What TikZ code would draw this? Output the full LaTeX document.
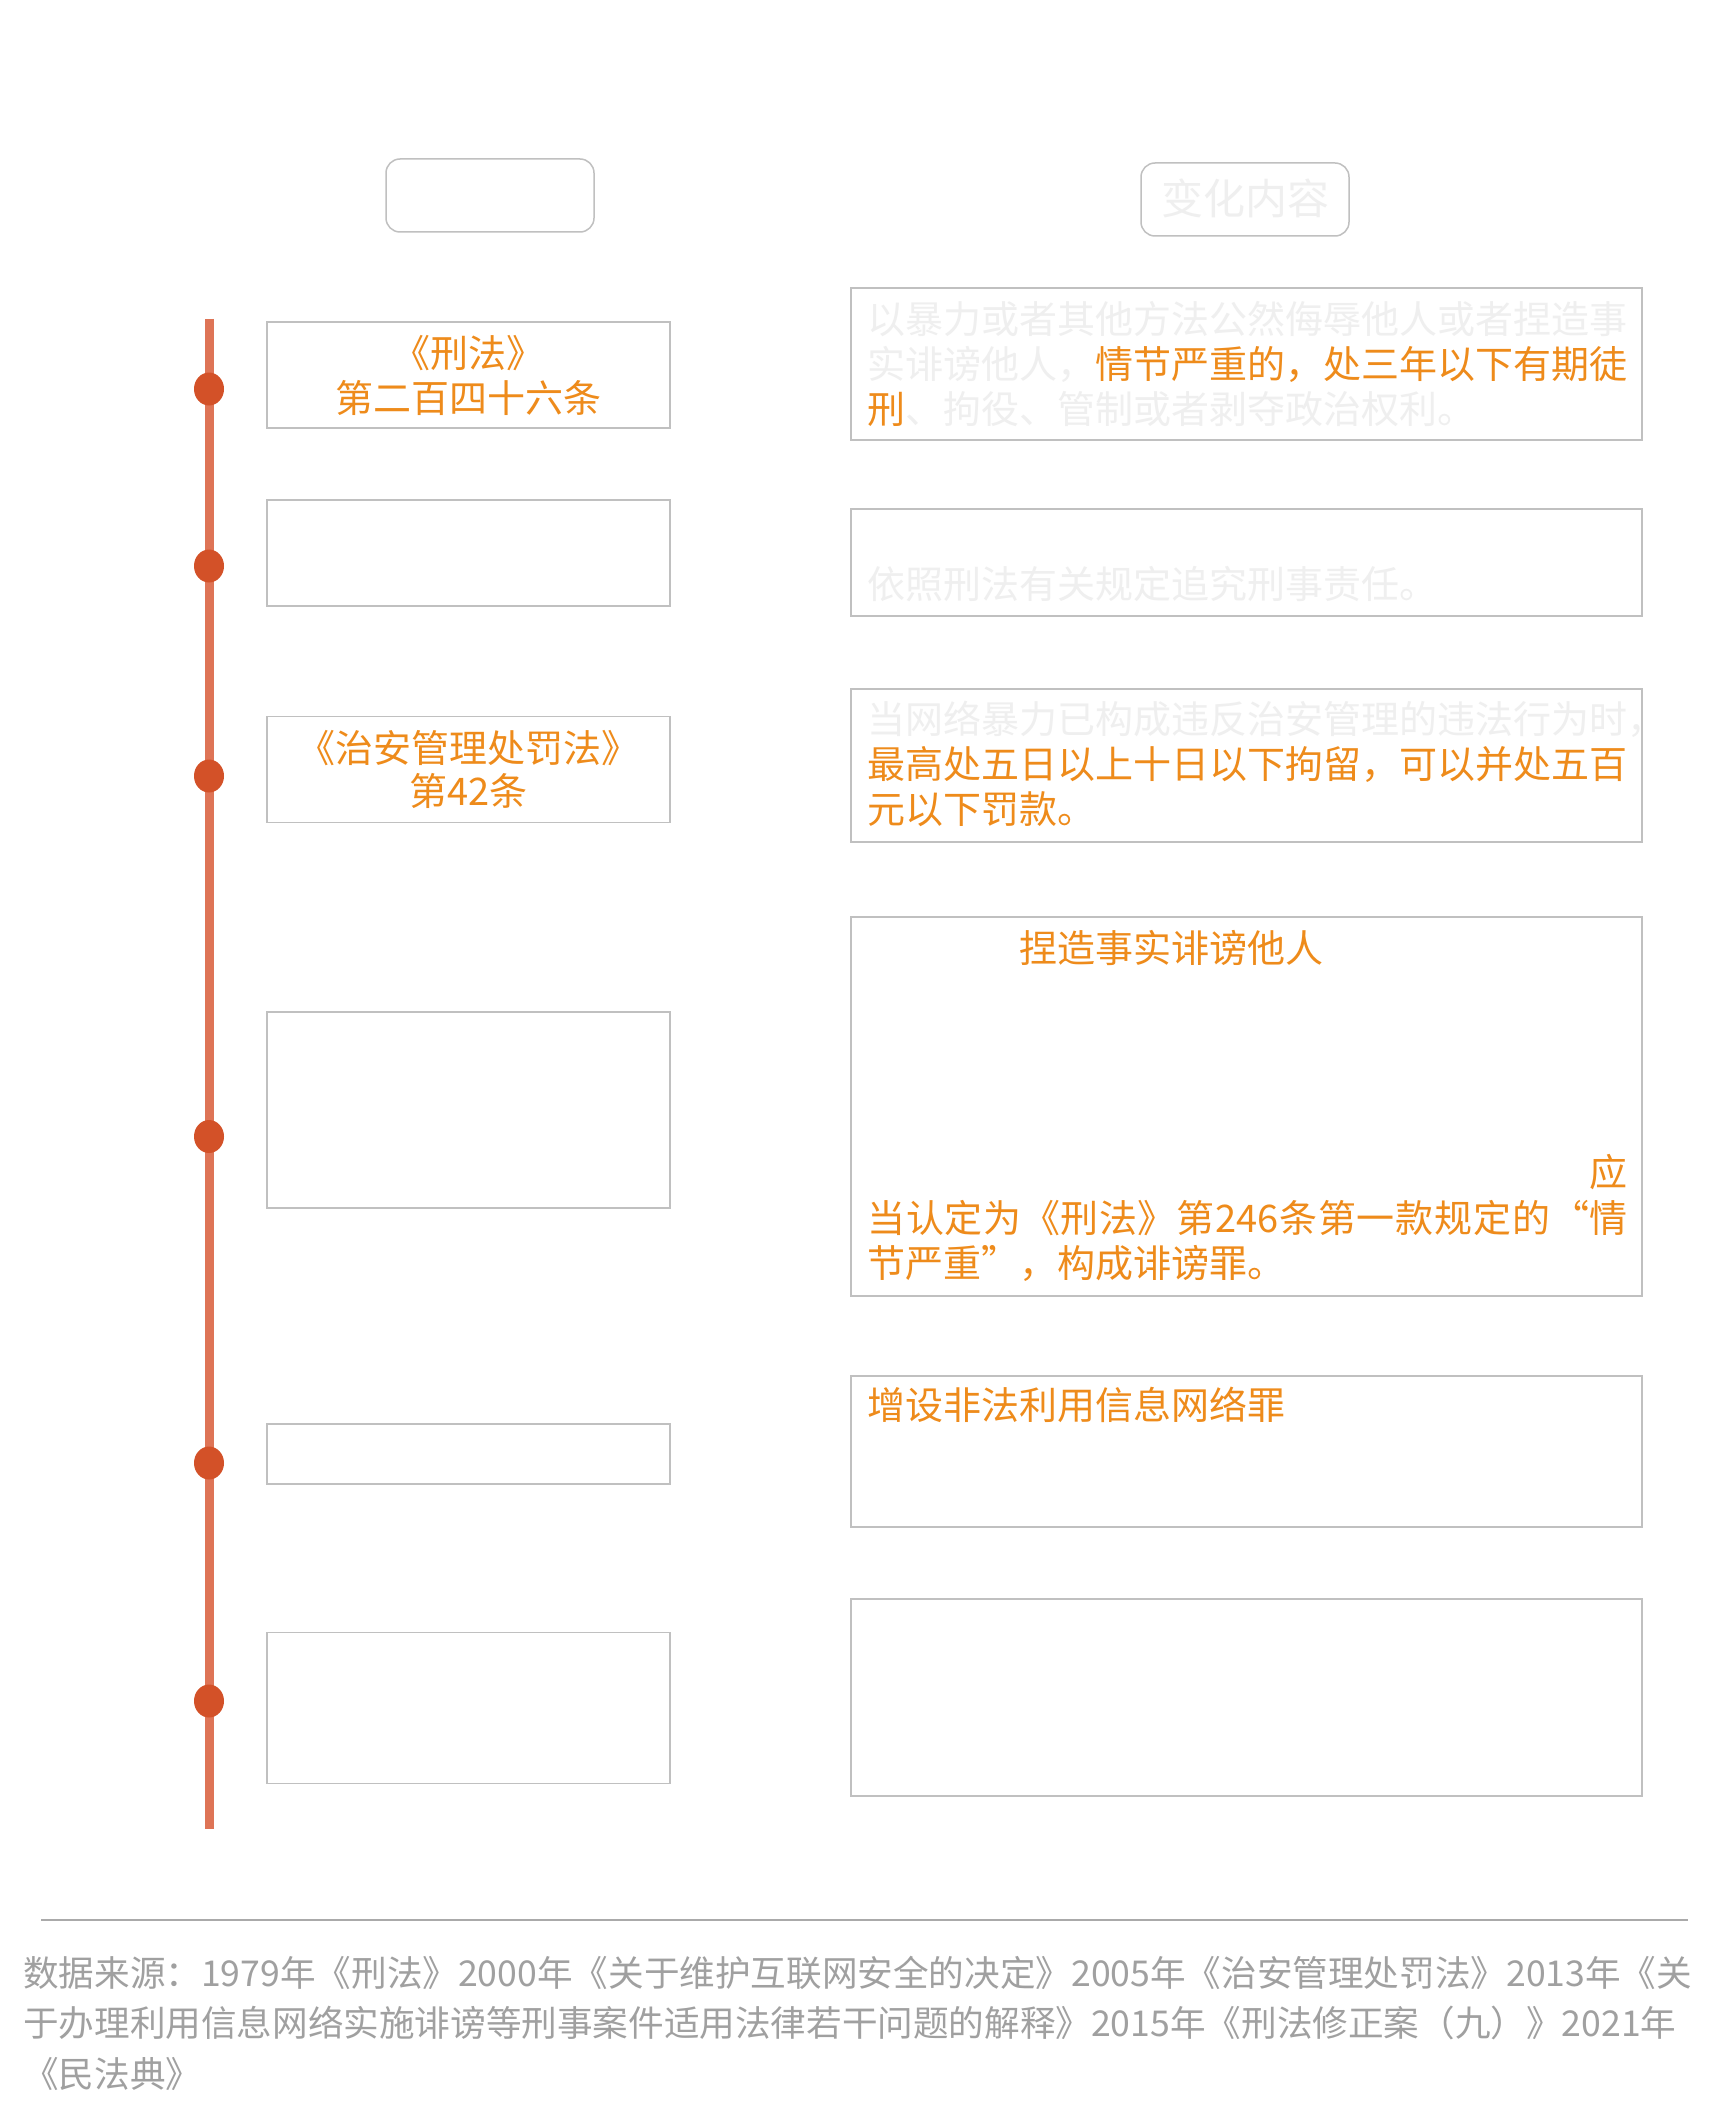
\documentclass[tikz,border=0pt]{standalone}
\usepackage{fontspec}
\setmainfont{Noto Sans CJK SC}
\usetikzlibrary{shapes.geometric}
\definecolor{orng}{HTML}{EE8B1B}
\definecolor{faint}{HTML}{EFEFEF}
\definecolor{boxgray}{HTML}{C0C0C0}
\definecolor{tline}{HTML}{DE7456}
\definecolor{tdot}{HTML}{D35128}
\definecolor{foot}{HTML}{A0A0A0}
\definecolor{footline}{HTML}{AAAAAA}
\tikzset{
  lbox/.style={draw=boxgray, line width=1.5pt, fill=white, minimum width=403pt, inner sep=0pt},
  rbox/.style={draw=boxgray, line width=1.5pt, fill=white, minimum width=791pt, inner sep=0pt},
  hbox/.style={draw=boxgray, line width=1.5pt, fill=white, rounded corners=14pt, minimum width=208pt, minimum height=73pt, inner sep=0pt},
  txt/.style={inner sep=0pt, anchor=base west, font=\fontsize{38pt}{45pt}\selectfont},
  ctxt/.style={inner sep=0pt, anchor=base, text=orng, font=\fontsize{38pt}{45pt}\selectfont},
  ftxt/.style={inner sep=0pt, anchor=base west, text=foot, font=\fontsize{35.6pt}{48pt}\selectfont},
  tdotstyle/.style={shape=ellipse, fill=tdot, minimum width=30pt, minimum height=33pt, inner sep=0pt},
}
\begin{document}
\begin{tikzpicture}[x=1pt,y=-1pt]
\fill[white] (0,0) rectangle (1724,2116);
\useasboundingbox (0,0) rectangle (1724,2116);

% header boxes
\node[hbox] (h1) at (490,195.5) {};
\node[hbox] (h2) at (1245,199.5) {};
\node[inner sep=0pt, anchor=base, text=faint, font=\fontsize{42pt}{48pt}\selectfont] (h2t) at (1245,215) {变化内容};

% timeline
\coordinate (tltop) at (209,319);
\coordinate (tlbot) at (209,1829);
\draw[tline, line width=9pt] (tltop) -- (tlbot);

% left boxes
\node[lbox, minimum height=106pt] (L1) at (468.5,375) {};
\node[lbox, minimum height=106pt] (L2) at (468.5,553) {};
\node[lbox, minimum height=106pt] (L3) at (468.5,769.5) {};
\node[lbox, minimum height=196pt] (L4) at (468.5,1110) {};
\node[lbox, minimum height=60pt] (L5) at (468.5,1454) {};
\node[lbox, minimum height=151pt] (L6) at (468.5,1708) {};

\node[ctxt] (L1a) at (468.5,367) {《刑法》};
\node[ctxt] (L1b) at (468.5,412) {第二百四十六条};
\node[ctxt] (L3a) at (468.5,762) {《治安管理处罚法》};
\node[ctxt] (L3b) at (468.5,805.5) {第42条};

% dots
\node[tdotstyle] (d1) at (209,389) {};
\node[tdotstyle] (d2) at (209,566) {};
\node[tdotstyle] (d3) at (209,776) {};
\node[tdotstyle] (d4) at (209,1136.5) {};
\node[tdotstyle] (d5) at (209,1463) {};
\node[tdotstyle] (d6) at (209,1701) {};

% right boxes
\node[rbox, minimum height=152pt] (R1) at (1246.5,364) {};
\node[rbox, minimum height=107pt] (R2) at (1246.5,562.5) {};
\node[rbox, minimum height=153pt] (R3) at (1246.5,765.5) {};
\node[rbox, minimum height=379pt] (R4) at (1246.5,1106.5) {};
\node[rbox, minimum height=151pt] (R5) at (1246.5,1451.5) {};
\node[rbox, minimum height=197pt] (R6) at (1246.5,1697.5) {};

% right box texts
\node[txt, text=faint] (R1a) at (867,333.4) {以暴力或者其他方法公然侮辱他人或者捏造事};
\node[txt] (R1b) at (867,378) {{\color{faint}实诽谤他人，}{\color{orng}情节严重的，处三年以下有期徒}};
\node[txt] (R1c) at (867,423.4) {{\color{orng}刑}{\color{faint}、拘役、管制或者剥夺政治权利。}};

\node[txt, text=faint] (R2a) at (867,598) {依照刑法有关规定追究刑事责任。};

\node[txt, text=faint] (R3a) at (867,733.4) {当网络暴力已构成违反治安管理的违法行为时，};
\node[txt, text=orng] (R3b) at (867,778.4) {最高处五日以上十日以下拘留，可以并处五百};
\node[txt, text=orng] (R3c) at (867,823.4) {元以下罚款。};

\node[txt, text=orng] (R4a) at (1019,962) {捏造事实诽谤他人};
\node[txt, text=orng] (R4b) at (1589,1186.4) {应};
\node[txt, text=orng] (R4c) at (867,1232) {\makebox[760pt][s]{当\hfil 认\hfil 定\hfil 为\hfil 《刑\hfil 法》\hfil 第\hfil 246\hfil 条\hfil 第\hfil 一\hfil 款\hfil 规\hfil 定\hfil 的\hfil “情}};
\node[txt, text=orng] (R4d) at (867,1277) {节严重”，构成诽谤罪。};

\node[txt, text=orng] (R5a) at (867,1419.4) {增设非法利用信息网络罪};

% footer
\coordinate (fl1) at (41,1920);
\coordinate (fl2) at (1688,1920);
\draw[footline, line width=2.5pt] (fl1) -- (fl2);
\node[ftxt] (f1) at (23,1986) {数据来源：1979年《刑法》2000年《关于维护互联网安全的决定》2005年《治安管理处罚法》2013年《关};
\node[ftxt] (f2) at (23,2036) {于办理利用信息网络实施诽谤等刑事案件适用法律若干问题的解释》2015年《刑法修正案（九）》2021年};
\node[ftxt] (f3) at (23,2087) {《民法典》};
\end{tikzpicture}
\end{document}
